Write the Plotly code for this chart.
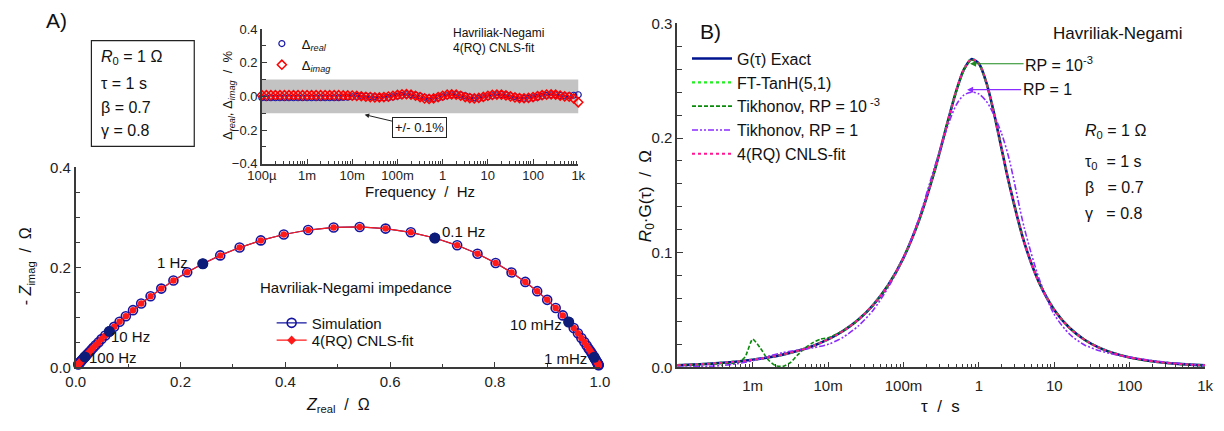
import plotly.graph_objects as go

W, H = 1224, 431
FONT = "Liberation Sans, Arial, sans-serif"
NB = "\u00a0"


def px(x):
    return x / W


def py(y):
    return 1 - y / H


# ---------------- Panel A: Nyquist data (10 points / decade, 100 uHz .. 1 kHz) ----------------
freq_hz = [
    1.000e-4, 1.259e-4, 1.585e-4, 1.995e-4, 2.512e-4, 3.162e-4, 3.981e-4, 5.012e-4, 6.310e-4, 7.943e-4,
    1.000e-3, 1.259e-3, 1.585e-3, 1.995e-3, 2.512e-3, 3.162e-3, 3.981e-3, 5.012e-3, 6.310e-3, 7.943e-3,
    1.000e-2, 1.259e-2, 1.585e-2, 1.995e-2, 2.512e-2, 3.162e-2, 3.981e-2, 5.012e-2, 6.310e-2, 7.943e-2,
    1.000e-1, 1.259e-1, 1.585e-1, 1.995e-1, 2.512e-1, 3.162e-1, 3.981e-1, 5.012e-1, 6.310e-1, 7.943e-1,
    1.000, 1.259, 1.585, 1.995, 2.512, 3.162, 3.981, 5.012, 6.310, 7.943,
    10.00, 12.59, 15.85, 19.95, 25.12, 31.62, 39.81, 50.12, 63.10, 79.43,
    100.0, 125.9, 158.5, 199.5, 251.2, 316.2, 398.1, 501.2, 631.0, 794.3,
    1000.0,
]

z_real = [
    0.9979, 0.9975, 0.9971, 0.9966, 0.9960, 0.9953, 0.9944, 0.9934, 0.9923, 0.9909,
    0.9892, 0.9873, 0.9849, 0.9822, 0.9788, 0.9749, 0.9704, 0.9648, 0.9582, 0.9502,
    0.9407, 0.9294, 0.9158, 0.8996, 0.8805, 0.8579, 0.8316, 0.8012, 0.7666, 0.7278,
    0.6852, 0.6394, 0.5912, 0.5417, 0.4921, 0.4435, 0.3970, 0.3532, 0.3127, 0.2757,
    0.2425, 0.2127, 0.1864, 0.1632, 0.1428, 0.1249, 0.1093, 0.0956, 0.0837, 0.0733,
    0.0642, 0.0563, 0.0493, 0.0433, 0.0379, 0.0333, 0.0292, 0.0256, 0.0225, 0.0198,
    0.0174, 0.0153, 0.0134, 0.0118, 0.0103, 0.0091, 0.0080, 0.0070, 0.0062, 0.0054,
    0.0048,
]

z_imag = [
    0.0041, 0.0048, 0.0056, 0.0066, 0.0077, 0.0091, 0.0106, 0.0125, 0.0146, 0.0171,
    0.0200, 0.0234, 0.0274, 0.0320, 0.0373, 0.0435, 0.0506, 0.0587, 0.0680, 0.0786,
    0.0906, 0.1039, 0.1188, 0.1350, 0.1524, 0.1709, 0.1899, 0.2089, 0.2273, 0.2442,
    0.2588, 0.2702, 0.2777, 0.2810, 0.2800, 0.2748, 0.2659, 0.2540, 0.2397, 0.2240,
    0.2073, 0.1904, 0.1737, 0.1575, 0.1422, 0.1278, 0.1144, 0.1022, 0.0911, 0.0810,
    0.0718, 0.0637, 0.0564, 0.0498, 0.0440, 0.0389, 0.0343, 0.0302, 0.0266, 0.0235,
    0.0207, 0.0182, 0.0160, 0.0141, 0.0124, 0.0109, 0.0096, 0.0084, 0.0074, 0.0065,
    0.0057,
]

# CNLS-fit coincides with the simulation to within 0.01 % (see inset)
fit_real = list(z_real)
fit_imag = list(z_imag)

# decade frequencies highlighted on the arc
decade_labels = ["1 mHz", "10 mHz", "0.1 Hz", "1 Hz", "10 Hz", "100 Hz"]
decade_freqs = [1e-3, 1e-2, 1e-1, 1.0, 10.0, 100.0]

# ---------------- Inset: residuals in % ----------------
delta_real = [
    -0.008, -0.008, -0.008, -0.008, -0.008, -0.008, -0.008, -0.008, -0.008, -0.008,
    -0.008, -0.008, -0.008, -0.008, -0.008, -0.008, -0.008, -0.007, -0.006, -0.004,
    -0.002, 0.000, 0.002, 0.002, 0.000, -0.003, -0.006, -0.008, -0.007, -0.003,
    0.002, 0.007, 0.010, 0.011, 0.008, 0.002, -0.005, -0.010, -0.012, -0.009,
    -0.003, 0.004, 0.009, 0.011, 0.009, 0.003, -0.004, -0.009, -0.011, -0.008,
    -0.002, 0.004, 0.009, 0.011, 0.009, 0.004, -0.002, -0.007, -0.011, -0.012,
    -0.009, -0.004, 0.002, 0.006, 0.009, 0.009, 0.006, 0.003, 0.004, 0.007,
    0.010,
]

delta_imag = [
    0.007, 0.007, 0.007, 0.007, 0.007, 0.007, 0.007, 0.007, 0.007, 0.007,
    0.007, 0.007, 0.007, 0.007, 0.007, 0.007, 0.007, 0.007, 0.006, 0.006,
    0.005, 0.003, 0.001, -0.002, -0.004, -0.006, -0.006, -0.004, -0.001, 0.004,
    0.009, 0.012, 0.013, 0.010, 0.004, -0.004, -0.012, -0.015, -0.012, -0.004,
    0.004, 0.010, 0.012, 0.010, 0.004, -0.004, -0.010, -0.012, -0.009, -0.003,
    0.004, 0.009, 0.011, 0.010, 0.006, 0.000, -0.006, -0.010, -0.011, -0.009,
    -0.004, 0.002, 0.007, 0.011, 0.012, 0.010, 0.005, 0.000, -0.002, -0.012,
    -0.035,
]

# ---------------- Panel B: distribution of relaxation times ----------------
tau_s = [
    1.0e-4, 1.585e-4, 2.512e-4, 3.981e-4, 6.310e-4,
    1.0e-3, 1.585e-3, 2.512e-3, 3.981e-3, 6.310e-3,
    1.0e-2, 1.585e-2, 2.512e-2, 3.981e-2, 6.310e-2,
    0.1, 0.1585, 0.2512, 0.3981, 0.5012, 0.6310, 0.7943,
    1.0, 1.259, 1.585, 1.995, 2.512, 3.981, 6.310,
    10.0, 15.85, 25.12, 39.81, 63.10,
    100.0, 158.5, 251.2, 398.1, 631.0, 1000.0,
]

g_exact = [
    0.00180, 0.00233, 0.00302, 0.00391, 0.00507,
    0.00656, 0.00851, 0.01104, 0.01434, 0.01864,
    0.02428, 0.03169, 0.04149, 0.05452, 0.07198,
    0.09551, 0.12714, 0.16851, 0.21752, 0.24113, 0.25968, 0.26877,
    0.26495, 0.24806, 0.22167, 0.19095, 0.16042, 0.10924, 0.07362,
    0.05005, 0.03447, 0.02402, 0.01691, 0.01199,
    0.00855, 0.00613, 0.00440, 0.00317, 0.00229, 0.00165,
]

g_ft_tanh = [
    0.00182, 0.00234, 0.00303, 0.00392, 0.00508,
    0.00657, 0.00852, 0.01105, 0.01435, 0.01865,
    0.02430, 0.03170, 0.04150, 0.05450, 0.07195,
    0.09550, 0.12710, 0.16850, 0.21750, 0.24110, 0.25965, 0.26880,
    0.26500, 0.24810, 0.22170, 0.19090, 0.16040, 0.10920, 0.07360,
    0.05005, 0.03447, 0.02402, 0.01691, 0.01199,
    0.00855, 0.00613, 0.00440, 0.00317, 0.00229, 0.00166,
]

g_rq_fit = [
    0.00185, 0.00236, 0.00304, 0.00392, 0.00508,
    0.00657, 0.00851, 0.01104, 0.01434, 0.01864,
    0.02428, 0.03169, 0.04149, 0.05452, 0.07198,
    0.09551, 0.12714, 0.16851, 0.21752, 0.24113, 0.25968, 0.26877,
    0.26495, 0.24806, 0.22167, 0.19095, 0.16042, 0.10924, 0.07362,
    0.05005, 0.03447, 0.02402, 0.01691, 0.01199,
    0.00855, 0.00613, 0.00440, 0.00317, 0.00229, 0.00168,
]

g_tikh_rp1 = [
    0.0000, 0.0003, 0.0008, 0.0016, 0.0032,
    0.0057, 0.0095, 0.0128, 0.0150, 0.0170,
    0.0200, 0.0262, 0.0360, 0.0500, 0.0700,
    0.0950, 0.1290, 0.1720, 0.2130, 0.2290, 0.2375, 0.2400,
    0.2385, 0.2320, 0.2200, 0.2040, 0.1820, 0.1220, 0.0770,
    0.0460, 0.0290, 0.0195, 0.0145, 0.0112,
    0.0088, 0.0068, 0.0050, 0.0036, 0.0025, 0.0015,
]

tau_tikh_rp3 = [
    1.0e-4, 1.585e-4, 2.512e-4, 3.981e-4, 6.310e-4,
    7.943e-4, 1.0e-3, 1.259e-3, 1.585e-3, 1.995e-3, 2.512e-3, 3.162e-3, 3.981e-3, 5.012e-3, 6.310e-3, 7.943e-3,
    1.0e-2, 1.585e-2, 2.512e-2, 3.981e-2, 6.310e-2,
    0.1, 0.1585, 0.2512, 0.3981, 0.5012, 0.6310, 0.7943,
    1.0, 1.259, 1.585, 1.995, 2.512, 3.981, 6.310,
    10.0, 15.85, 25.12, 39.81, 63.10,
    100.0, 158.5, 251.2, 398.1, 631.0, 1000.0,
]

g_tikh_rp3 = [
    0.0018, 0.0023, 0.0029, 0.0034, 0.0038,
    0.0090, 0.0245, 0.0170, 0.0070, 0.0015, 0.0008, 0.0040, 0.0110, 0.0170, 0.0215, 0.0245,
    0.0258, 0.0318, 0.0412, 0.0543, 0.0718,
    0.0953, 0.1270, 0.1684, 0.2173, 0.2408, 0.2592, 0.2680,
    0.2648, 0.2482, 0.2218, 0.1910, 0.1604, 0.1092, 0.0736,
    0.0501, 0.0345, 0.0240, 0.0169, 0.0120,
    0.0085, 0.0061, 0.0044, 0.0032, 0.0023, 0.0017,
]

freq_ticks = [1e-4, 1e-3, 1e-2, 1e-1, 1, 10, 100, 1000]
freq_ticktext = ["100µ", "1m", "10m", "100m", "1", "10", "100", "1k"]

# ---------------- styles ----------------
NAVY = "#1414A0"
DOT_NAVY = "#0C1C78"
RED = "#FF1A1A"
AXC = "#3a3a3a"
minor_log = [m * 10.0 ** e for e in range(-4, 3) for m in range(2, 10)]


def axis(**kw):
    d = dict(showline=True, linecolor=AXC, linewidth=1.5, ticks="inside", ticklen=6,
             tickwidth=1.3, tickcolor=AXC, showgrid=False, zeroline=False,
             tickfont=dict(family=FONT, size=15, color="#222"), fixedrange=True)
    d.update(kw)
    return d


fig = go.Figure()

# Panel A traces
fig.add_trace(go.Scatter(
    x=z_real, y=z_imag, mode="lines+markers", name="Simulation",
    line=dict(color=NAVY, width=1.2),
    marker=dict(symbol="circle-open", size=9, color=NAVY, line=dict(width=1.6)),
    xaxis="x", yaxis="y", legend="legend2", cliponaxis=False))
fig.add_trace(go.Scatter(
    x=fit_real, y=fit_imag, mode="lines+markers", name="4(RQ) CNLS-fit",
    line=dict(color=RED, width=1.2), marker=dict(symbol="circle", size=6.5, color=RED),
    xaxis="x", yaxis="y", showlegend=False, cliponaxis=False))
fig.add_trace(go.Scatter(
    x=[None], y=[None], mode="lines+markers", name="4(RQ) CNLS-fit",
    line=dict(color=RED, width=1.2), marker=dict(symbol="diamond", size=7, color=RED),
    xaxis="x", yaxis="y", legend="legend4"))
dec_idx = [freq_hz.index(f) for f in decade_freqs]
fig.add_trace(go.Scatter(
    x=[z_real[i] for i in dec_idx], y=[z_imag[i] for i in dec_idx], mode="markers",
    marker=dict(size=11, color=DOT_NAVY), xaxis="x", yaxis="y", showlegend=False,
    cliponaxis=False))

# Inset traces
fig.add_trace(go.Scatter(
    x=freq_hz, y=delta_real, mode="markers", name="Δ<sub><i>real</i></sub>",
    marker=dict(symbol="circle-open", size=6, color="#1A1AA6", line=dict(width=1.2)),
    xaxis="x2", yaxis="y2", legend="legend3", cliponaxis=False))
fig.add_trace(go.Scatter(
    x=freq_hz, y=delta_imag, mode="markers", name="Δ<sub><i>imag</i></sub>",
    marker=dict(symbol="diamond-open", size=7, color="#FF0000", line=dict(width=1.5)),
    xaxis="x2", yaxis="y2", legend="legend5", cliponaxis=False))

# Panel B traces
sp = dict(shape="spline", smoothing=0.8)
fig.add_trace(go.Scatter(x=tau_s, y=g_exact, mode="lines", name="G(τ) Exact",
                         line=dict(color="#001490", width=2.6, **sp), xaxis="x3", yaxis="y3"))
fig.add_trace(go.Scatter(x=tau_s, y=g_ft_tanh, mode="lines", name="FT-TanH(5,1)",
                         line=dict(color="#22EE22", width=2.4, dash="dot", **sp), xaxis="x3", yaxis="y3"))
fig.add_trace(go.Scatter(x=tau_tikh_rp3, y=g_tikh_rp3, mode="lines", name="Tikhonov, RP = 10<sup> -3</sup>",
                         line=dict(color="#0A8A0A", width=1.6, dash="4px,2px", shape="spline", smoothing=0.6),
                         xaxis="x3", yaxis="y3"))
fig.add_trace(go.Scatter(x=tau_s, y=g_tikh_rp1, mode="lines", name="Tikhonov, RP = 1",
                         line=dict(color="#8A2BFF", width=1.6, dash="6px,2px,2px,2px,2px,2px", **sp),
                         xaxis="x3", yaxis="y3"))
fig.add_trace(go.Scatter(x=tau_s, y=g_rq_fit, mode="lines", name="4(RQ) CNLS-fit",
                         line=dict(color="#FF1493", width=2.0, dash="dot", **sp), xaxis="x3", yaxis="y3"))

# ---------------- axes ----------------
fig.update_layout(
    xaxis=axis(domain=[px(62), px(597)], range=[0, 1], dtick=0.2, tickformat=".1f",
               minor=dict(dtick=0.1, ticks="inside", ticklen=4, tickcolor=AXC), anchor="y"),
    yaxis=axis(domain=[py(373), py(165)], range=[0, 0.4], dtick=0.2, tickformat=".1f",
               minor=dict(dtick=0.05, ticks="inside", ticklen=5, tickcolor=AXC), anchor="x"),
    xaxis2=axis(domain=[px(252), px(575)], type="log", range=[-4, 3], tickmode="array",
                tickvals=freq_ticks, ticktext=freq_ticktext, ticklen=5, ticklabelstandoff=-1,
                tickfont=dict(family=FONT, size=13, color="#222"),
                minor=dict(tickmode="array", tickvals=minor_log, ticks="inside", ticklen=3, tickcolor=AXC),
                anchor="y2"),
    yaxis2=axis(domain=[py(161), py(21)], range=[-0.4, 0.4], dtick=0.2, tickformat=".1f", ticklen=5,
                tickfont=dict(family=FONT, size=13, color="#222"),
                minor=dict(dtick=0.1, ticks="inside", ticklen=4, tickcolor=AXC), anchor="x2"),
    xaxis3=axis(domain=[px(676), px(1215)], type="log", range=[-4, 3], tickmode="array",
                tickvals=freq_ticks[1:], ticktext=freq_ticktext[1:], ticklabelstandoff=4,
                minor=dict(tickmode="array", tickvals=minor_log, ticks="inside", ticklen=4, tickcolor=AXC),
                anchor="y3"),
    yaxis3=axis(domain=[py(373), py(15)], range=[0, 0.3], dtick=0.1, tickformat=".1f",
                minor=dict(dtick=0.02, ticks="inside", ticklen=5, tickcolor=AXC), anchor="x3"),
)

# ---------------- shapes ----------------
shapes = [
    dict(type="rect", xref="x2 domain", yref="y2", x0=0, x1=1, y0=-0.1, y1=0.1,
         fillcolor="#C3C3C3", line=dict(width=0), layer="below"),
    dict(type="rect", xref="paper", yref="paper", x0=px(78), x1=px(183), y0=py(143), y1=py(33),
         line=dict(color="#222", width=1.2), fillcolor="rgba(0,0,0,0)"),
]

# ---------------- annotations ----------------
def txt(x, y, text, size=16, xanchor="center", angle=0, xref="paper", yref="paper", color="#111"):
    return dict(x=x, y=y, xref=xref, yref=yref, text=text, showarrow=False, xanchor=xanchor,
                yanchor="middle", textangle=angle, font=dict(family=FONT, size=size, color=color))


ann = [
    txt(px(30), py(12), "A)", size=21, xanchor="left"),
    txt(px(86), py(51), "<i>R</i><sub>0</sub> = 1 Ω", xanchor="left"),
    txt(px(86), py(78), "τ = 1 s", xanchor="left"),
    txt(px(86), py(103), "β = 0.7", xanchor="left"),
    txt(px(86), py(127), "γ = 0.8", xanchor="left"),
    # inset
    txt(px(445), py(25), "Havriliak-Negami", size=12, xanchor="left"),
    txt(px(445), py(41), "4(RQ) CNLS-fit", size=12, xanchor="left"),
    txt(px(218), py(90), "Δ<sub><i>real</i></sub>, Δ<sub><i>imag</i></sub>" + NB * 2 + "/" + NB * 2 + "%",
        size=13, angle=-90),
    txt(px(413), py(190), "Frequency" + NB * 2 + "/" + NB * 2 + "Hz", size=15),
    dict(x=px(357), y=py(110), xref="paper", yref="paper", text="+/- 0.1%", showarrow=True,
         ax=55, ay=13, arrowhead=2, arrowsize=0.9, arrowwidth=1, arrowcolor="#222",
         bordercolor="#222", borderwidth=1, borderpad=2, bgcolor="white",
         font=dict(family=FONT, size=13, color="#111")),
    # Nyquist
    txt(px(330), py(413), "<i>Z</i><sub>real</sub>" + NB * 2 + "/" + NB * 2 + "Ω", size=16),
    txt(px(12), py(268), "- <i>Z</i><sub>imag</sub>" + NB * 2 + "/" + NB * 2 + "Ω", size=16, angle=-90),
    txt(0.534, 0.16, "Havriliak-Negami impedance", size=15, xref="x", yref="y"),
    # B
    txt(px(697), py(23), "B)", size=21, xanchor="left"),
    txt(px(1125), py(25), "Havriliak-Negami", size=17),
    txt(px(1090), py(128), "<i>R</i><sub>0</sub> = 1 Ω", xanchor="left"),
    txt(px(1090), py(160), "τ<sub>0</sub>" + NB * 2 + "= 1 s", xanchor="left"),
    txt(px(1090), py(186), "β" + NB * 3 + "= 0.7", xanchor="left"),
    txt(px(1090), py(213), "γ" + NB * 3 + "= 0.8", xanchor="left"),
    txt(px(645), py(195), "<i>R</i><sub>0</sub>·G(τ)" + NB * 2 + "/" + NB * 2 + "Ω", size=17, angle=-90),
    txt(px(945), py(414), "τ" + NB * 2 + "/" + NB * 2 + "s", size=17),
    dict(x=px(975), y=py(57), xref="paper", yref="paper", text="RP = 10<sup>-3</sup>", showarrow=True,
         ax=89, ay=0, arrowhead=2, arrowsize=1, arrowwidth=1.2, arrowcolor="#1E8A1E",
         font=dict(family=FONT, size=16, color="#111")),
    dict(x=px(972), y=py(84), xref="paper", yref="paper", text="RP = 1", showarrow=True,
         ax=80, ay=0, arrowhead=2, arrowsize=1, arrowwidth=1.2, arrowcolor="#8A2BFF",
         font=dict(family=FONT, size=16, color="#111")),
]

label_pos = {
    "0.1 Hz": (0.74, 0.271), "1 Hz": (0.185, 0.210), "10 Hz": (0.105, 0.061),
    "100 Hz": (0.072, 0.020), "10 mHz": (0.878, 0.085), "1 mHz": (0.935, 0.018),
}
for lab in decade_labels:
    lx, ly = label_pos[lab]
    ann.append(txt(lx, ly, lab, size=15, xref="x", yref="y"))

leg = dict(xanchor="left", yanchor="middle", bgcolor="rgba(0,0,0,0)", tracegroupgap=0)
fig.update_layout(
    width=W, height=H, margin=dict(l=0, r=0, t=0, b=0),
    paper_bgcolor="white", plot_bgcolor="white",
    font=dict(family=FONT, color="#111"),
    shapes=shapes, annotations=ann,
    legend=dict(x=px(686), y=py(34), xanchor="left", yanchor="top", bgcolor="rgba(0,0,0,0)",
                font=dict(family=FONT, size=16, color="#111"), tracegroupgap=0, itemwidth=40),
    legend2=dict(x=px(262), y=py(327), font=dict(family=FONT, size=15, color="#111"), **leg),
    legend4=dict(x=px(262), y=py(345), font=dict(family=FONT, size=15, color="#111"), **leg),
    legend3=dict(x=px(252), y=py(36), font=dict(family=FONT, size=13, color="#111"), **leg),
    legend5=dict(x=px(252), y=py(58), font=dict(family=FONT, size=13, color="#111"), **leg),
    showlegend=True,
)

fig.write_html("out.html")
